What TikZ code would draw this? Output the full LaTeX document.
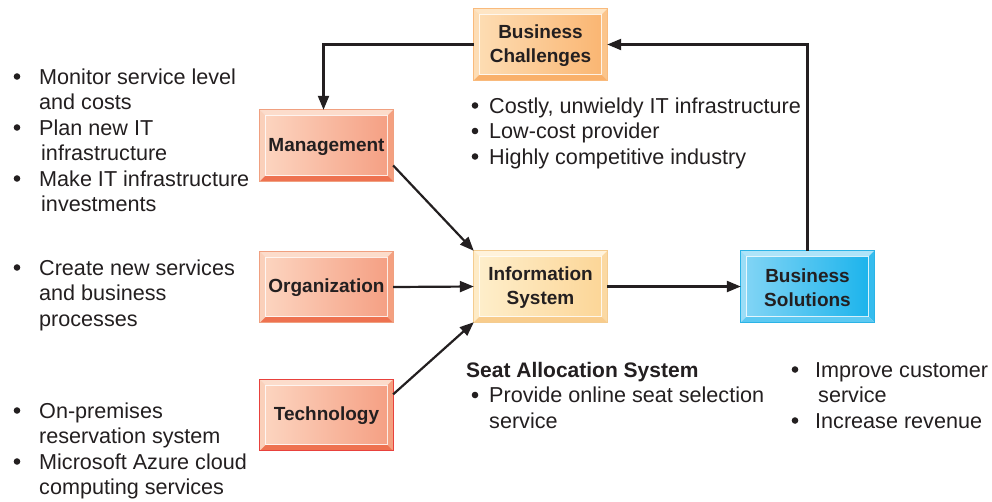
\documentclass[tikz,border=0pt]{standalone}
\usepackage{fontspec}
\setmainfont{Liberation Sans}
\usetikzlibrary{calc,arrows.meta}
\definecolor{ink}{HTML}{231F20}
\tikzset{
  arr/.style={draw=ink, line width=2.2pt, -{Triangle[length=14pt,width=11pt]}},
  boxshape/.style={minimum width=133pt, minimum height=71pt, inner sep=0pt},
  boxlbl/.style={font=\fontsize{19}{24}\selectfont\bfseries, text=ink, align=center, inner sep=0pt},
  btxt/.style={font=\fontsize{21.6}{25.6}\selectfont, text=ink, anchor=base west, inner sep=0pt},
  bdot/.style={circle, fill=ink, minimum size=6.6pt, inner sep=0pt},
}
% #1 name, #2 center, #3 label, #4 inner left, #5 inner right, #6 top, #7 left, #8 right, #9 bottom ; border via \bordcol
\newcommand\bevbox[9]{%
  \definecolor{#1cA}{HTML}{#4}\definecolor{#1cB}{HTML}{#5}\definecolor{#1cT}{HTML}{#6}%
  \definecolor{#1cL}{HTML}{#7}\definecolor{#1cR}{HTML}{#8}\definecolor{#1cD}{HTML}{#9}%
  \node[boxshape] (#1) at (#2) {};
  \fill[#1cT] (#1.north west) -- (#1.north east) -- ($(#1.north east)+(-6,6)$) -- ($(#1.north west)+(6,6)$) -- cycle;
  \fill[#1cL] (#1.north west) -- ($(#1.north west)+(6,6)$) -- ($(#1.south west)+(6,-6)$) -- (#1.south west) -- cycle;
  \fill[#1cR] (#1.north east) -- ($(#1.north east)+(-6,6)$) -- ($(#1.south east)+(-6,-6)$) -- (#1.south east) -- cycle;
  \fill[#1cD] (#1.south west) -- ($(#1.south west)+(6,-6)$) -- ($(#1.south east)+(-6,-6)$) -- (#1.south east) -- cycle;
  \shade[left color=#1cA, right color=#1cB] ($(#1.north west)+(6,6)$) rectangle ($(#1.south east)+(-6,-6)$);
  \draw[white, line width=0.8pt, opacity=0.8] ($(#1.north west)+(6,6)$) rectangle ($(#1.south east)+(-6,-6)$);
  \draw[\bordcol, line width=0.8pt] (#1.north west) rectangle (#1.south east);
  \node[boxlbl] (#1t) at ($(#1.center)+(0,1)$) {#3};
}
\newcommand\bordcol{black}
% bullet: name, x, baseline y
\newcommand\bul[3]{\node[bdot] (#1) at (#2,#3-7.5) {};}
\begin{document}
\begin{tikzpicture}[x=1pt,y=-1pt]
\useasboundingbox[fill=white] (0,0) rectangle (992,501);

\definecolor{bcB}{HTML}{F9BA7C}
\renewcommand\bordcol{bcB}
\bevbox{bc}{540.5,44.5}{Business\\Challenges}{FDDCB2}{FAB673}{FEE5C4}{FDDDB5}{FBC58C}{F9B06A}

\definecolor{mgB}{HTML}{F0A080}
\renewcommand\bordcol{mgB}
\bevbox{mg}{326.5,145.5}{Management}{FCD4BF}{F5A084}{FCDCCB}{FAD0BA}{F4A080}{EE7250}
\bevbox{org}{326.5,287}{Organization}{FCD4BF}{F5A084}{FCDCCB}{FAD0BA}{F4A080}{EE7250}

\definecolor{tcB}{HTML}{E8413C}
\renewcommand\bordcol{tcB}
\bevbox{tc}{326.5,415}{Technology}{FCD4BF}{F5A084}{FCDCCB}{FAD0BA}{F4A080}{EE7250}

\definecolor{isB}{HTML}{F4CC90}
\renewcommand\bordcol{isB}
\bevbox{is}{540.5,286.5}{Information\\System}{FEEECA}{FCD698}{FFF3DC}{FEEBC6}{FBD9A3}{F8CC8C}

\definecolor{bsB}{HTML}{2BB3E6}
\renewcommand\bordcol{bsB}
\bevbox{bs}{807.5,286.5}{Business\\Solutions}{80D4F5}{1DB4EC}{AEE4F9}{9BDDF7}{35BCEE}{5CC9F2}

% connectors
\draw[arr] (bc.west) -| ($(mg.north)+(-3,0)$);
\draw[arr] (bs.north) |- (bc.east);
\draw[arr] ($(mg.north east)!0.78!(mg.south east)$) -- (is.north west);
\draw[arr] (org.east) -- (is.west);
\draw[arr] ($(tc.north east)!0.21!(tc.south east)$) -- (is.south west);
\draw[arr] (is.east) -- (bs.west);

% left texts
\bul{d1}{17}{84}
\node[btxt] (l1) at (39,84) {Monitor service level};
\node[btxt] (l2) at (39,109.5) {and costs};
\bul{d2}{17}{135}
\node[btxt] (l3) at (39,135) {Plan new IT};
\node[btxt] (l4) at (41,160.5) {infrastructure};
\bul{d3}{17}{186}
\node[btxt] (l5) at (39,186) {Make IT infrastructure};
\node[btxt] (l6) at (41,211.5) {investments};

\bul{d4}{17}{275}
\node[btxt] (l7) at (39,275) {Create new services};
\node[btxt] (l8) at (39,300.5) {and business};
\node[btxt] (l9) at (39,326) {processes};

\bul{d5}{17}{418}
\node[btxt] (l10) at (39,418) {On-premises};
\node[btxt] (l11) at (39,443.5) {reservation system};
\bul{d6}{17}{469}
\node[btxt] (l12) at (39,469) {Microsoft Azure cloud};
\node[btxt] (l13) at (39,494.5) {computing services};

% challenges
\bul{d7}{475}{113}
\node[btxt] (c1) at (489,113) {Costly, unwieldy IT infrastructure};
\bul{d8}{475}{138.5}
\node[btxt] (c2) at (489,138.5) {Low-cost provider};
\bul{d9}{475}{164}
\node[btxt] (c3) at (489,164) {Highly competitive industry};

% seat allocation
\node[btxt, font=\fontsize{21}{25.6}\selectfont\bfseries] (s0) at (466,377) {Seat Allocation System};
\bul{d10}{475}{402.5}
\node[btxt] (s1) at (489,402.5) {Provide online seat selection};
\node[btxt] (s2) at (489,428) {service};

% solutions
\bul{d11}{795}{377}
\node[btxt] (r1) at (815,377) {Improve customer};
\node[btxt] (r2) at (818,402.5) {service};
\bul{d12}{795}{428}
\node[btxt] (r3) at (815,428) {Increase revenue};
\end{tikzpicture}
\end{document}
